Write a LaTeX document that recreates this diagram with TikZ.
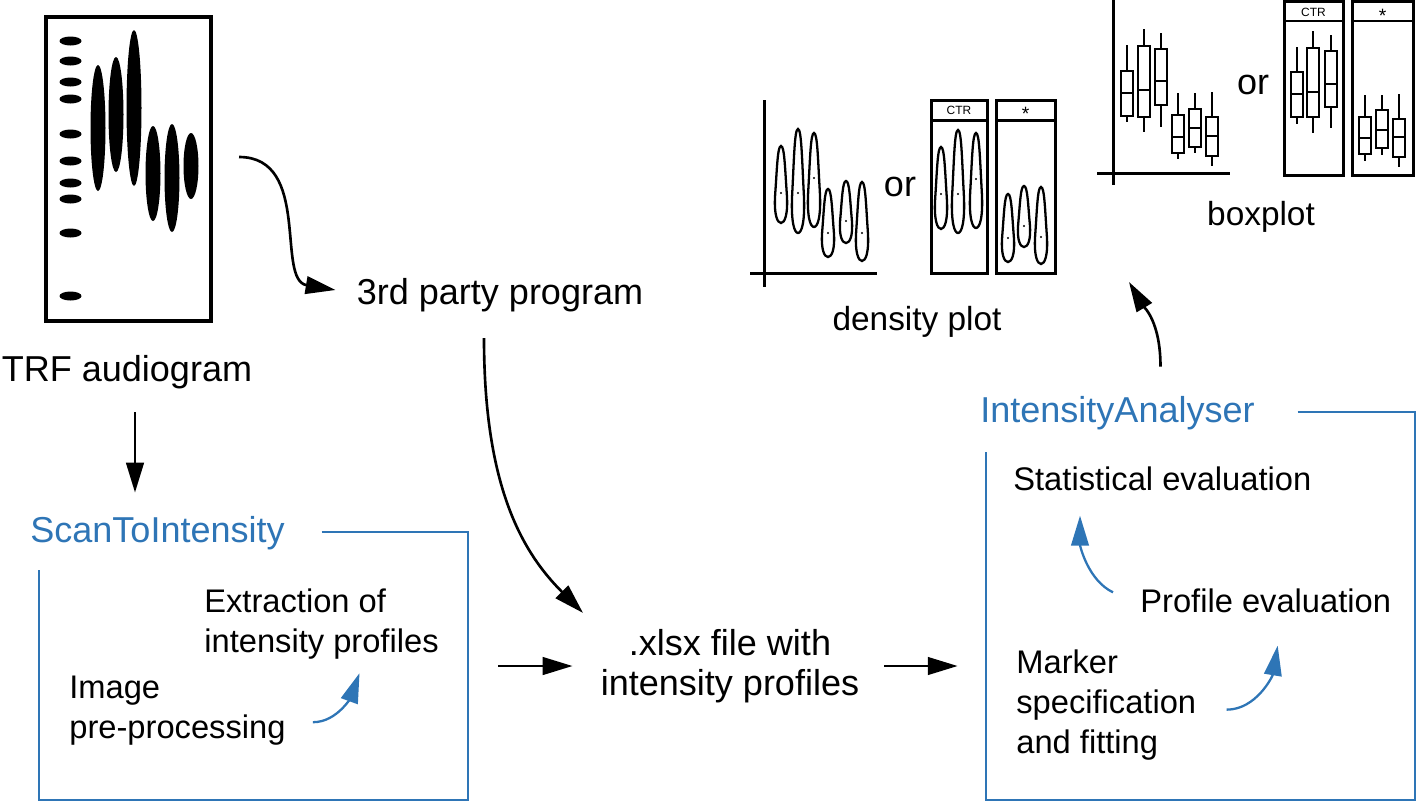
\documentclass[tikz,border=0pt]{standalone}
\usepackage{fontspec}
\setmainfont{Liberation Sans}
\usetikzlibrary{arrows.meta, positioning, fit}
\definecolor{toolblue}{RGB}{46,117,182}

% one violin: x, top, bottom, median dot
\newcommand{\violin}[4]{%
  \draw[violin] (#1,#2) .. controls ({#1+3.5},#2) and ({#1+4},{#2+0.3*(#3-#2)}) .. ({#1+5.8},{#2+0.62*(#3-#2)})
    .. controls ({#1+7.3},{#2+0.9*(#3-#2)}) and ({#1+3.5},#3) .. (#1,#3)
    .. controls ({#1-3.5},#3) and ({#1-7.3},{#2+0.9*(#3-#2)}) .. ({#1-5.8},{#2+0.62*(#3-#2)})
    .. controls ({#1-4},{#2+0.3*(#3-#2)}) and ({#1-3.5},#2) .. (#1,#2) -- cycle;
  \fill (#1,#4) circle[radius=1.1];
}
% one box: x, whisker top, box top, median, box bottom, whisker bottom
\newcommand{\bpbox}[6]{%
  \draw[boxline] (#1,#2) -- (#1,#6);
  \draw[boxline, fill=white] ({#1-6},#3) rectangle ({#1+6},#5);
  \draw[boxline] ({#1-6},#4) -- ({#1+6},#4);
}

\begin{document}
\begin{tikzpicture}[
    x=0.02cm, y=-0.02cm,
    maintext/.style={inner sep=0, font=\fontsize{20.5}{22.7}\selectfont},
    plottext/.style={inner sep=0, font=\fontsize{19}{22.7}\selectfont},
    steptext/.style={inner sep=0, align=left, font=\fontsize{18.6}{22.7}\selectfont},
    tooltitle/.style={inner sep=0, text=toolblue, font=\fontsize{20.5}{22.7}\selectfont},
    paneltext/.style={inner sep=0, font=\fontsize{6.8}{8}\selectfont},
    arrow/.style={-{Triangle[length=17pt, width=10pt]}, line width=1.5pt},
    toolarrow/.style={arrow, draw=toolblue, line width=1.3pt},
    toolframe/.style={draw=toolblue, line width=1.2pt},
    axis/.style={line width=1.7pt},
    violin/.style={line width=1.3pt},
    boxline/.style={line width=1.5pt}
    ]
    \useasboundingbox (0,0) rectangle (1416,802);

    % TRF audiogram
    \node[fit={(46,17) (211,321)}, inner sep=0, draw, line width=2.3pt] (audiogram) {};
    \foreach \y in {41,61,82,99,134,161,183,199,233,296}
        \fill (70.5,\y) ellipse [x radius=11, y radius=4.5];
    \foreach \x/\y/\r in {98/128/63, 116/114.5/57.5, 134/108/78, 153/173.5/47.5, 172/178/54, 191/166/33}
        \fill (\x,\y) ellipse [x radius=7.5, y radius=\r];
    \node[maintext] (trf) at (127,372) {TRF audiogram};

    % Texts
    \node[maintext] (third) at (500,295) {3rd party program};
    \node[maintext, align=center] (xlsx) at (730,666) {.xlsx file with\\intensity profiles};

    % ScanToIntensity
    \node[tooltitle, anchor=base west] (scan) at (30,542) {ScanToIntensity};
    \node[steptext, anchor=base west] (extract) at (204,652) {Extraction of\\intensity profiles};
    \node[steptext, anchor=base west] (prep) at (69,738) {Image\\pre-processing};
    \node[fit={(39,532) (468,800)}, inner sep=0] (scanbox) {};
    \draw[toolframe] ([shift={(283,0)}]scanbox.north west) -- (scanbox.north east) -- (scanbox.south east)
        -- (scanbox.south west) -- ([shift={(0,38)}]scanbox.north west);

    % IntensityAnalyser
    \node[tooltitle, anchor=base west] (analyser) at (980,422) {IntensityAnalyser};
    \node[steptext, anchor=base west] (stat) at (1013,490) {Statistical evaluation};
    \node[steptext, anchor=base west] (profile) at (1140,612) {Profile evaluation};
    \node[steptext, anchor=base west] (marker) at (1016,753) {Marker\\specification\\and fitting};
    \node[fit={(986,412) (1415,800)}, inner sep=0] (analyserbox) {};
    \draw[toolframe] ([shift={(312,0)}]analyserbox.north west) -- (analyserbox.north east) -- (analyserbox.south east)
        -- (analyserbox.south west) -- ([shift={(0,40)}]analyserbox.north west);

    % density plot
    \draw[axis] (764,100) -- (764,287);
    \draw[axis] (750,273) -- (877,273);
    \foreach \x/\t/\b/\d in {781/146/223/193, 798/129/233/193, 814/133/227/178, 828/189/257/233, 846/181/243/221, 862/182/261/233}
        {\violin{\x}{\t}{\b}{\d}}
    \node[maintext] (or1) at (900,187) {or};
    \draw[axis] (931,100) rectangle (987,273);
    \draw[axis] (931,120) -- (987,120);
    \node[paneltext] (ctr1) at (959,110) {CTR};
    \foreach \x/\t/\b/\d in {941/147/229/194, 958/130/233/194, 976/133/228/179}
        {\violin{\x}{\t}{\b}{\d}}
    \draw[axis] (996,100) rectangle (1055,273);
    \draw[axis] (996,120) -- (1055,120);
    \node[paneltext, font=\fontsize{11}{11}\selectfont] (star1) at (1025.5,114) {*};
    \foreach \x/\t/\b/\d in {1008/194/262/238, 1024/186/247/226, 1041/187/264/237}
        {\violin{\x}{\t}{\b}{\d}}
    \node[plottext] (density) at (917,322) {density plot};

    % boxplot
    \coordinate (bporigin) at (1113,173);
    \draw[axis] (1113,0) -- (1113,185);
    \draw[axis] (1097,173) -- (1230,173);
    \foreach \x/\a/\b/\c/\d/\e in {1127/45/71/93/116/122, 1144/29/46/90/117/132, 1161/33/49/81/105/127,
        1178/93/115/137/153/159, 1195/93/109/128/147/153, 1212/92/117/136/156/166}
        {\bpbox{\x}{\a}{\b}{\c}{\d}{\e}}
    \node[maintext] (or2) at (1253,85) {or};
    \draw[axis] (1284,1.5) rectangle (1343,175);
    \draw[axis] (1284,21) -- (1343,21);
    \node[paneltext] (ctr2) at (1313.5,12) {CTR};
    \foreach \x/\a/\b/\c/\d/\e in {1297/47/72/94/117/124, 1313/31/48/92/117/133, 1331/35/51/84/107/128}
        {\bpbox{\x}{\a}{\b}{\c}{\d}{\e}}
    \draw[axis] (1352,1.5) rectangle (1413,175);
    \draw[axis] (1352,21) -- (1413,21);
    \node[paneltext, font=\fontsize{11}{11}\selectfont] (star2) at (1382.5,16) {*};
    \foreach \x/\a/\b/\c/\d/\e in {1365/95/117/138/154/161, 1382/95/110/130/148/155, 1399/94/119/137/157/167}
        {\bpbox{\x}{\a}{\b}{\c}{\d}{\e}}
    \node[plottext] (boxplot) at (1261,217) {boxplot};

    % Connect the steps
    \draw[arrow] ([shift={(26,-12)}]audiogram.east) .. controls +(73,0) and +(-60,-10) .. ([shift={(-21,-5)}]third.west);
    \draw[arrow] ([shift={(8,23)}]trf.south) -- ([shift={(105,-23)}]scan.north west);
    \draw[arrow] ([shift={(-16,26)}]third.south) .. controls +(0,150) and +(-60,-60) .. ([shift={(-17.5,-16)}]xlsx.north west);
    \draw[arrow] ([shift={(30,0)}]scanbox.east) -- ([shift={(-28,0)}]xlsx.west);
    \draw[arrow] ([shift={(25,0)}]xlsx.east) -- ([shift={(-28,0)}]xlsx.east -| analyserbox.west);
    \draw[arrow] ([shift={(43,-29)}]analyser.north) .. controls +(0,-45) and +(15,25) .. ([shift={(16,109)}]bporigin);

    % Steps inside the tools
    \draw[toolarrow] ([shift={(27,12)}]prep.east) .. controls +(25,0) and +(-8,22) .. ([shift={(38,14)}]extract.south);
    \draw[toolarrow] ([shift={(-27,-8)}]profile.west) .. controls +(-25,-12) and +(0,30) .. ([shift={(67,25)}]stat.south west);
    \draw[toolarrow] ([shift={(30,5)}]marker.east) .. controls +(30,0) and +(-5,30) .. ([shift={(12,33)}]profile.south);

\end{tikzpicture}
\end{document}
